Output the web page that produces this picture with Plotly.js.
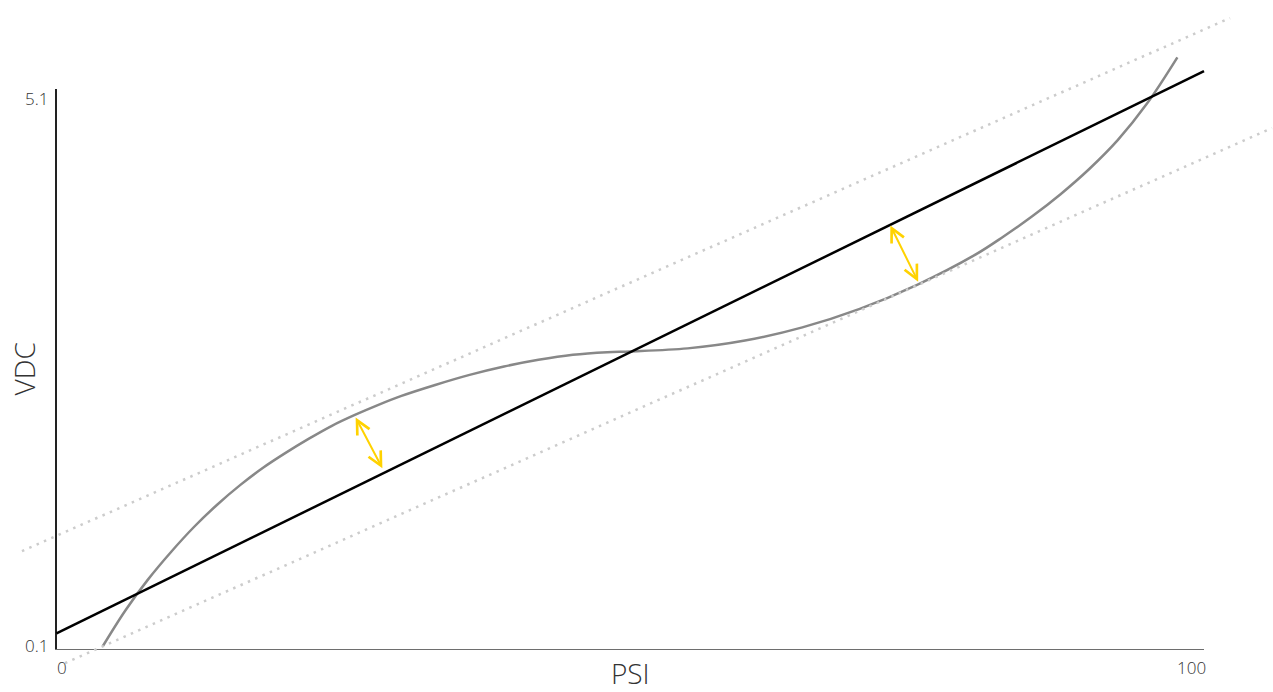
<!DOCTYPE html>
<html><head><meta charset="utf-8">
<script src="https://cdn.plot.ly/plotly-3.0.1.min.js"></script>
<style>html,body{margin:0;padding:0;background:#fff}#chart{width:1273px;height:692px}</style>
</head><body><div id="chart"></div>
<script>
// ---- data ----
const curveX = [4.03, 6, 8, 10, 12, 14, 16, 18, 20, 22, 24, 26, 28, 30, 33, 36, 39, 42, 45, 48, 50,
                55, 60, 65, 70, 75, 80, 82.5, 85, 87.5, 90, 92.5, 95, 97.68];
const curveY = [0.12, 0.44, 0.72, 0.965, 1.188, 1.385, 1.56, 1.715, 1.85, 1.975, 2.09, 2.187, 2.275, 2.355, 2.455, 2.545, 2.62, 2.68, 2.725, 2.748, 2.755,
                2.782, 2.852, 2.970, 3.135, 3.350, 3.615, 3.780, 3.960, 4.160, 4.385, 4.645, 4.965, 5.383];
const fitX = [0, 100];
const fitY = [0.235, 5.26];
const upperX = [-3.01, 102.27];
const upperY = [0.971, 5.734];
const lowerX = [0.74, 105.93];
const lowerY = [-0.030, 4.751];
const arrowTailX = [26.0, 72.6];
const arrowTailY = [2.178, 3.894];
const arrowHeadX = [28.4, 75.09];
const arrowHeadY = [1.710, 3.378];
const xTickVals = [0, 100];
const xTickText = ['0', '100'];
const yTickVals = [0.1, 5.1];
const yTickText = ['0.1', '5.1'];
const xTitle = 'PSI';
const yTitle = 'VDC';

// ---- geometry ----
const W = 1273, H = 692;
const boxL = 56.5, boxR = 1204, boxT = 89, boxB = 648.5;
const xMin = xTickVals[0], xMax = xTickVals[xTickVals.length - 1];
const yMin = yTickVals[0], yMax = yTickVals[yTickVals.length - 1];
const pxX = (boxR - boxL) / (xMax - xMin);
const pxY = (boxB - boxT) / (yMax - yMin);
const fullXRange = [xMin - boxL / pxX, xMax + (W - boxR) / pxX];
const fullYRange = [yMin - (H - boxB) / pxY, yMax + boxT / pxY];

const FONT = '"Open Sans", "Noto Sans", sans-serif';

const traces = [
  {x: curveX, y: curveY, xaxis: 'x2', yaxis: 'y2', mode: 'lines', line: {color: '#888888', width: 2.5, shape: 'spline', smoothing: 1}, hoverinfo: 'skip', showlegend: false},
  {x: fitX, y: fitY, xaxis: 'x2', yaxis: 'y2', mode: 'lines', line: {color: '#000000', width: 2.5}, hoverinfo: 'skip', showlegend: false},
  {x: upperX, y: upperY, xaxis: 'x2', yaxis: 'y2', mode: 'lines', line: {color: '#cccccc', width: 2.5, dash: '2.5px,5.5px'}, hoverinfo: 'skip', showlegend: false},
  {x: lowerX, y: lowerY, xaxis: 'x2', yaxis: 'y2', mode: 'lines', line: {color: '#cccccc', width: 2.5, dash: '2.5px,5.5px'}, hoverinfo: 'skip', showlegend: false}
];

const annotations = [];
arrowHeadX.forEach((hx, i) => {
  annotations.push({
    xref: 'x2', yref: 'y2', axref: 'x2', ayref: 'y2',
    x: hx, y: arrowHeadY[i], ax: arrowTailX[i], ay: arrowTailY[i],
    text: '', showarrow: true, arrowside: 'end+start',
    arrowhead: 5, startarrowhead: 5, arrowsize: 1.35, startarrowsize: 1.35,
    arrowwidth: 2, arrowcolor: '#FFD200', standoff: 0, startstandoff: 0
  });
});
xTickVals.forEach((v, i) => {
  const first = i === 0;
  annotations.push({
    xref: 'x', yref: 'y', x: v, y: yMin, text: xTickText[i], showarrow: false,
    xanchor: first ? 'left' : 'right', yanchor: 'top',
    xshift: first ? -2 : 4, yshift: -5,
    font: {family: FONT, size: 17, color: '#333', weight: 300}
  });
});
yTickVals.forEach((v, i) => {
  const first = i === 0;
  annotations.push({
    xref: 'x', yref: 'y', x: xMin, y: v, text: yTickText[i], showarrow: false,
    xanchor: 'right', yanchor: 'middle',
    xshift: -7, yshift: first ? 3.5 : -9,
    font: {family: FONT, size: 17, color: '#333', weight: 300}
  });
});

const layout = {
  width: W, height: H, autosize: false,
  margin: {l: 0, r: 0, t: 0, b: 0, pad: 0},
  paper_bgcolor: '#ffffff', plot_bgcolor: 'rgba(0,0,0,0)',
  font: {family: FONT, color: '#333'},
  showlegend: false,
  xaxis: {
    domain: [boxL / W, boxR / W], range: [xMin, xMax], anchor: 'y',
    showline: true, linecolor: '#6e6e6e', linewidth: 1.5,
    showgrid: false, zeroline: false, showticklabels: false, ticks: '',
    fixedrange: true,
    title: {text: xTitle, font: {family: FONT, size: 28, color: '#333', weight: 300}, standoff: 21}
  },
  yaxis: {
    domain: [(H - boxB) / H, (H - boxT) / H], range: [yMin, yMax], anchor: 'x',
    showline: true, linecolor: '#222222', linewidth: 1.5,
    showgrid: false, zeroline: false, showticklabels: false, ticks: '',
    fixedrange: true,
    title: {text: yTitle, font: {family: FONT, size: 28, color: '#333', weight: 300}, standoff: 11}
  },
  xaxis2: {domain: [0, 1], range: fullXRange, anchor: 'y2', visible: false, fixedrange: true},
  yaxis2: {domain: [0, 1], range: fullYRange, anchor: 'x2', visible: false, fixedrange: true},
  annotations: annotations
};

Plotly.newPlot('chart', traces, layout, {staticPlot: true, displayModeBar: false});
</script>
</body></html>
